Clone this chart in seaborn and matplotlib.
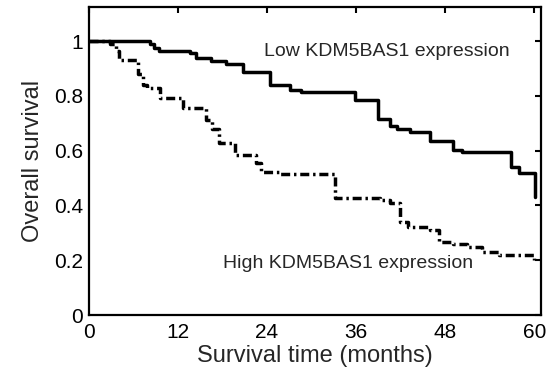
import numpy as np
import pandas as pd
import matplotlib
matplotlib.use("Agg")
import matplotlib.pyplot as plt
import seaborn as sns

# Kaplan-Meier step data
low_time = [0, 8.2, 8.8, 9.5, 13.6, 14.5, 16.4, 18.5, 20.7, 24.4, 27.1, 28.6,
            35.9, 39.0, 40.6, 41.5, 43.3, 46.0, 49.1, 50.2, 56.8, 57.9, 60.1, 60.1]
low_surv = [1.0, 0.99, 0.975, 0.965, 0.955, 0.937, 0.927, 0.915, 0.886, 0.839, 0.821, 0.815,
            0.785, 0.714, 0.69, 0.678, 0.669, 0.635, 0.602, 0.596, 0.541, 0.517, 0.432, 0.432]

high_time = [0, 2.8, 3.6, 4.0, 6.6, 7.3, 7.8, 9.6, 12.7, 15.8, 16.6, 17.5, 19.7,
             22.5, 23.2, 25.8, 33.2, 39.2, 40.6, 41.9, 43.0, 46.0, 47.2, 49.0, 50.9,
             52.9, 55.2, 59.9, 60.0]
high_surv = [1.0, 0.99, 0.965, 0.93, 0.88, 0.84, 0.827, 0.794, 0.754, 0.712, 0.68, 0.627, 0.584,
             0.554, 0.523, 0.515, 0.428, 0.42, 0.408, 0.341, 0.322, 0.31, 0.268, 0.26, 0.249,
             0.231, 0.219, 0.207, 0.2]

x_ticks = [0, 12, 24, 36, 48, 60]
y_ticks = [0, 0.2, 0.4, 0.6, 0.8, 1]
y_tick_labels = ["0", "0.2", "0.4", "0.6", "0.8", "1"]

sns.set_style("white")
plt.rcParams['font.family'] = ['Liberation Sans', 'DejaVu Sans']

df = pd.concat([
    pd.DataFrame({"time": low_time, "surv": low_surv, "group": "Low"}),
    pd.DataFrame({"time": high_time, "surv": high_surv, "group": "High"}),
], ignore_index=True)

fig = plt.figure(figsize=(5.55, 3.8), dpi=100)
ax = fig.add_axes([0.160, 0.171, 0.815, 0.811])

sns.lineplot(data=df, x="time", y="surv", hue="group", style="group",
             hue_order=["Low", "High"], style_order=["Low", "High"],
             palette={"Low": "black", "High": "black"},
             dashes={"Low": "", "High": (2.6, 1.1, 0.7, 1.1)},
             drawstyle="steps-post", linewidth=2.5, legend=False,
             estimator=None, sort=False, ax=ax)

ax.set_xlim(0, 60.9)
ax.set_ylim(0, 1.125)
ax.set_xticks(x_ticks)
ax.set_xticklabels([str(t) for t in x_ticks])
ax.set_yticks(y_ticks)
ax.set_yticklabels(y_tick_labels)
ax.tick_params(direction="in", length=4, width=1.5, top=True, right=True,
               labelsize=15, pad=4, colors="black")
ax.tick_params(axis="x", pad=6)
for sp in ax.spines.values():
    sp.set_visible(True)
    sp.set_linewidth(1.6)
    sp.set_color("black")

ax.set_xlabel("Survival time (months)", fontsize=17, labelpad=2)
ax.set_ylabel("Overall survival", fontsize=17, labelpad=7)

ax.text(23.6, 0.962, "Low KDM5BAS1 expression", fontsize=14, va="center", ha="left")
ax.text(18.1, 0.187, "High KDM5BAS1 expression", fontsize=14, va="center", ha="left")

fig.savefig("out.png", dpi=100)
